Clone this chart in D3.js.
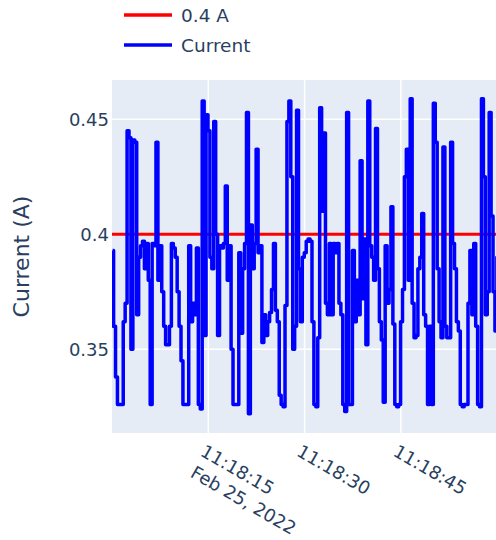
<!DOCTYPE html>
<html>
<head>
<meta charset="utf-8">
<script src="https://cdn.jsdelivr.net/npm/d3@7"></script>
<style>
  html, body { margin: 0; padding: 0; background: #fff; }
  svg { display: block; }
  text { font-family: "DejaVu Sans", Verdana, sans-serif; fill: #2a3f5f; }
</style>
</head>
<body>
<svg id="chart" width="496" height="540"></svg>
<script>
// ---- data ----
const startTime = "2022-02-25T11:18:00.100";
const sampleStepMs = 300;
const currentValues = [
  0.393,0.360,0.338,0.326,0.326,0.326,0.362,0.370,0.445,0.442,
  0.350,0.441,0.440,0.365,0.390,0.395,0.397,0.385,0.396,0.380,
  0.326,0.396,0.395,0.440,0.380,0.395,0.375,0.360,0.352,0.352,
  0.360,0.396,0.394,0.390,0.375,0.360,0.345,0.326,0.326,0.326,
  0.395,0.362,0.370,0.365,0.394,0.326,0.324,0.458,0.356,0.452,
  0.445,0.390,0.385,0.449,0.400,0.356,0.395,0.394,0.396,0.421,
  0.380,0.395,0.350,0.326,0.326,0.326,0.392,0.357,0.385,0.396,
  0.453,0.322,0.404,0.385,0.396,0.437,0.392,0.395,0.353,0.365,
  0.356,0.362,0.366,0.376,0.396,0.367,0.362,0.330,0.326,0.325,
  0.369,0.449,0.458,0.425,0.350,0.360,0.454,0.385,0.362,0.390,
  0.392,0.397,0.398,0.397,0.362,0.326,0.325,0.355,0.455,0.410,
  0.444,0.370,0.365,0.396,0.365,0.396,0.392,0.396,0.370,0.365,
  0.326,0.323,0.453,0.326,0.326,0.393,0.362,0.380,0.365,0.432,
  0.372,0.398,0.352,0.458,0.395,0.390,0.380,0.446,0.385,0.362,
  0.354,0.327,0.395,0.370,0.376,0.412,0.361,0.326,0.325,0.326,
  0.362,0.376,0.425,0.437,0.380,0.459,0.370,0.355,0.356,0.385,
  0.390,0.409,0.365,0.360,0.326,0.360,0.326,0.457,0.440,0.385,
  0.362,0.355,0.438,0.360,0.355,0.355,0.440,0.396,0.385,0.362,
  0.358,0.326,0.325,0.326,0.326,0.370,0.393,0.365,0.396,0.360,
  0.326,0.325,0.459,0.425,0.365,0.375,0.453,0.408,0.375,0.358,
  0.390
];
const thresholdValue = 0.4;
const yTickValues = [0.35, 0.4, 0.45];
const yTickLabels = ["0.35", "0.4", "0.45"];
const xTickTimes = ["2022-02-25T11:18:15", "2022-02-25T11:18:30", "2022-02-25T11:18:45"];
const xTickLabels = ["11:18:15", "11:18:30", "11:18:45"];
const xTickSubLabels = ["Feb 25, 2022", "", ""];
const legendNames = ["0.4 A", "Current"];
const legendColors = ["#ff0000", "#0000ff"];
const yAxisTitle = "Current (A)";

// ---- layout ----
const svg = d3.select("#chart");
const plot = { left: 112, top: 80, right: 497.2, bottom: 433 };

const t0 = new Date(startTime);
const series = currentValues.map((v, i) => ({ t: new Date(t0.getTime() + i * sampleStepMs), v }));

const x = d3.scaleTime()
  .domain([new Date("2022-02-25T11:18:00"), new Date("2022-02-25T11:19:00")])
  .range([plot.left, plot.right]);
const y = d3.scaleLinear()
  .domain([0.3136, 0.4671])
  .range([plot.bottom, plot.top]);

// background
svg.append("rect")
  .attr("x", plot.left).attr("y", plot.top)
  .attr("width", plot.right - plot.left).attr("height", plot.bottom - plot.top)
  .attr("fill", "#e5ecf6");

svg.append("clipPath").attr("id", "clip")
  .append("rect")
  .attr("x", plot.left).attr("y", plot.top)
  .attr("width", plot.right - plot.left).attr("height", plot.bottom - plot.top);

// gridlines
const grid = svg.append("g");
grid.selectAll("line.gy").data(yTickValues).enter().append("line")
  .attr("x1", plot.left).attr("x2", plot.right)
  .attr("y1", d => y(d)).attr("y2", d => y(d))
  .attr("stroke", "#fff").attr("stroke-width", 1.5);
grid.selectAll("line.gx").data(xTickTimes).enter().append("line")
  .attr("x1", d => x(new Date(d))).attr("x2", d => x(new Date(d)))
  .attr("y1", plot.top).attr("y2", plot.bottom)
  .attr("stroke", "#fff").attr("stroke-width", 1.5);

// y axis labels
const yAxis = d3.axisLeft(y).tickValues(yTickValues)
  .tickFormat((d, i) => yTickLabels[i]).tickSize(0).tickPadding(3);
const gy = svg.append("g").attr("transform", `translate(${plot.left},0)`).call(yAxis);
gy.select(".domain").remove();
gy.selectAll("text").style("font-size", "18px").style("font-family", "DejaVu Sans, Verdana, sans-serif").attr("fill", "#2a3f5f");

// x axis labels (rotated 30deg)
const xl = svg.append("g");
xTickTimes.forEach((d, i) => {
  const tx = x(new Date(d)) - 9;
  const g = xl.append("g").attr("transform", `translate(${tx},455) rotate(30)`);
  const txt = g.append("text").style("font-size", "18px").attr("text-anchor", "start");
  txt.append("tspan").attr("x", 0).attr("dy", 0).text(xTickLabels[i]);
  if (xTickSubLabels[i]) txt.append("tspan").attr("x", 2).attr("dy", "1.3em").text(xTickSubLabels[i]);
});

// y axis title
svg.append("text")
  .attr("transform", `translate(29,${(plot.top + plot.bottom) / 2}) rotate(-90)`)
  .attr("text-anchor", "middle")
  .style("font-size", "22px")
  .text(yAxisTitle);

// lines
const lines = svg.append("g").attr("clip-path", "url(#clip)");
lines.append("line")
  .attr("x1", plot.left).attr("x2", plot.right)
  .attr("y1", y(thresholdValue)).attr("y2", y(thresholdValue))
  .attr("stroke", legendColors[0]).attr("stroke-width", 3);
lines.append("path").datum(series)
  .attr("fill", "none").attr("stroke", legendColors[1]).attr("stroke-width", 3.5)
  .attr("stroke-linejoin", "round")
  .attr("d", d3.line().curve(d3.curveStep).x(d => x(d.t)).y(d => y(d.v)));

// legend
const lg = svg.append("g");
legendNames.forEach((n, i) => {
  const cy = 15 + i * 30;
  lg.append("line").attr("x1", 124).attr("x2", 172).attr("y1", cy).attr("y2", cy)
    .attr("stroke", legendColors[i]).attr("stroke-width", 3.5);
  lg.append("text").attr("x", 181).attr("y", cy + 7).style("font-size", "18.5px").text(n);
});
</script>
</body>
</html>
